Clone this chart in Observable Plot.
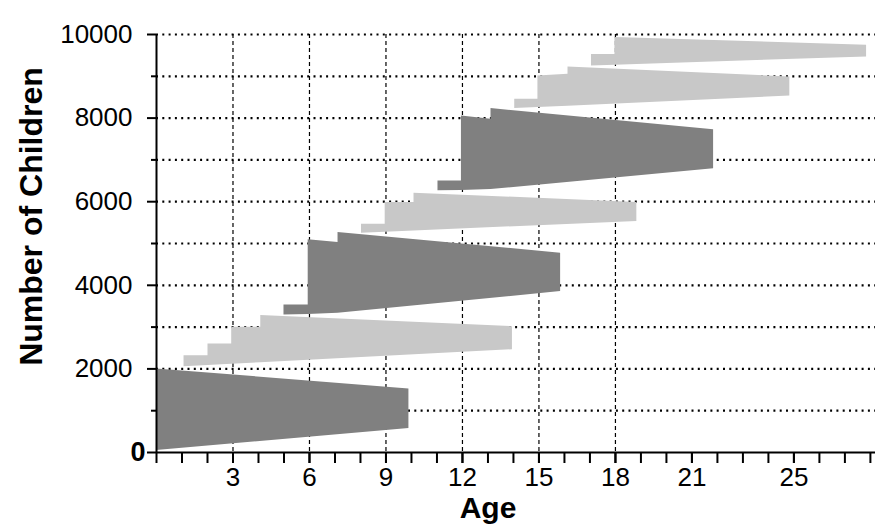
<!DOCTYPE html>
<html>
<head>
<meta charset="utf-8">
<script src="https://cdn.jsdelivr.net/npm/d3@7"></script>
<script src="https://cdn.jsdelivr.net/npm/@observablehq/plot@0.6"></script>
<style>
  html, body { margin: 0; padding: 0; background: #fff; }
  #chart { width: 881px; height: 532px; }
</style>
</head>
<body>
<div id="chart"></div>
<script>
// Each cohort outline: [age, lower count, upper count]
const cohort1 = [[0, 50, 2000], [9.9, 575, 1520]];
const cohort2 = [[1.08, 2053, 2317], [2.02, 2083, 2317], [2.02, 2083, 2597], [2.95, 2112, 2597],
                 [2.95, 2112, 2995], [4.09, 2148, 2995], [4.09, 2148, 3275], [13.96, 2460, 3011]];
const cohort3 = [[5.0, 3291, 3531], [5.95, 3300, 3531], [5.95, 3300, 5088], [7.12, 3330, 5024],
                 [7.12, 3330, 5264], [15.85, 3850, 4768]];
const cohort4 = [[8.04, 5247, 5462], [8.97, 5271, 5462], [8.97, 5271, 5982], [10.1, 5300, 5982],
                 [10.1, 5300, 6205], [18.84, 5527, 5982]];
const cohort5 = [[11.04, 6262, 6493], [11.96, 6270, 6493], [11.96, 6270, 8050], [13.12, 6290, 7971],
                 [13.12, 6290, 8227], [21.85, 6790, 7724]];
const cohort6 = [[14.05, 8227, 8450], [14.96, 8252, 8450], [14.96, 8252, 9008], [16.14, 8285, 9050],
                 [16.14, 8285, 9224], [24.84, 8529, 8984]];
const cohort7 = [[17.06, 9248, 9521], [17.98, 9266, 9521], [17.98, 9266, 9928], [27.85, 9463, 9744]];
const cohorts = [cohort1, cohort2, cohort3, cohort4, cohort5, cohort6, cohort7];
const cohortShade = ["dark", "light", "dark", "light", "dark", "light", "light"];

const xTickLabels = [3, 6, 9, 12, 15, 18, 21, 25];
const xMinorTicks = d3.range(0, 29);
const yMajorTicks = [2000, 4000, 6000, 8000, 10000];
const yMinorTicks = [1000, 3000, 5000, 7000, 9000];
const yGrid = d3.range(1000, 10001, 1000);
const xGrid = [3, 6, 9, 12, 15, 18];
const xTitle = "Age";
const yTitle = "Number of Children";

const rows = cohorts.flatMap((c, i) => c.map(([age, lo, hi]) => ({cohort: i, shade: cohortShade[i], age, lo, hi})));

const chart = Plot.plot({
  width: 881,
  height: 532,
  marginLeft: 156,
  marginRight: 6,
  marginTop: 34,
  marginBottom: 80,
  style: {fontFamily: "'Liberation Sans', Arial, sans-serif", color: "#000", background: "#fff"},
  x: {domain: [0, 28.2], axis: null},
  y: {domain: [0, 10000], axis: null},
  color: {domain: ["dark", "light"], range: ["#808080", "#c8c8c8"]},
  marks: [
    Plot.gridY({ticks: yGrid, stroke: "#000", strokeOpacity: 1, strokeWidth: 2.2, strokeDasharray: "2,4.3"}),
    Plot.gridX({ticks: xGrid, stroke: "#000", strokeOpacity: 1, strokeWidth: 1.2, strokeDasharray: "4,3"}),
    Plot.areaY(rows, {x: "age", y1: "lo", y2: "hi", z: "cohort", fill: "shade", curve: "linear"}),
    Plot.ruleX([0], {strokeWidth: 2}),
    Plot.ruleY([0], {strokeWidth: 2}),
    Plot.axisX({ticks: xMinorTicks, tickSize: 11, strokeWidth: 2, text: null, label: null}),
    Plot.axisX({ticks: xTickLabels, tickSize: 11, tickPadding: 4, strokeWidth: 2, fontSize: 26, tickFormat: d => String(d), label: null}),
    Plot.axisY({ticks: yMinorTicks, tickSize: 5, strokeWidth: 2, text: null, label: null}),
    Plot.axisY({ticks: yMajorTicks, tickSize: 9, tickPadding: 15, strokeWidth: 2, fontSize: 26, tickFormat: d => String(d), label: null}),
    Plot.axisY({ticks: [0], tickSize: 9, tickPadding: 2, strokeWidth: 2, fontSize: 27, fontWeight: "bold", tickFormat: d => String(d), label: null}),
    Plot.text([yTitle], {frameAnchor: "middle", rotate: -90, dx: -484, dy: -27, fontSize: 32, fontWeight: "bold", fill: "#000"}),
    Plot.text([xTitle], {frameAnchor: "middle", dx: -28, dy: 265, fontSize: 30, fontWeight: "bold", fill: "#000", letterSpacing: "-2px"})
  ]
});
document.getElementById("chart").appendChild(chart);
</script>
</body>
</html>
